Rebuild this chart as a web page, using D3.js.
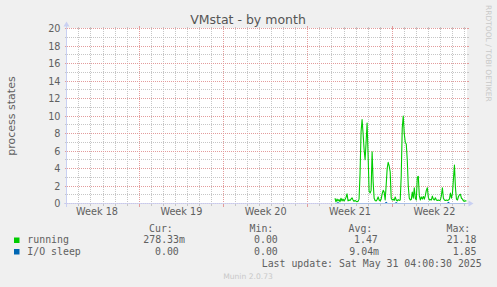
<!DOCTYPE html>
<html>
<head>
<meta charset="utf-8">
<script src="https://cdn.jsdelivr.net/npm/d3@7"></script>
<style>
  html, body { margin: 0; padding: 0; background: #f0f0f0; }
  svg { display: block; }
  text { font-family: "DejaVu Sans", sans-serif; }
  .mono { font-family: "DejaVu Sans Mono", monospace; }
</style>
</head>
<body>
<svg id="chart" width="497" height="287"></svg>
<script>
// ---- data -------------------------------------------------------------
const chartTitle = "VMstat - by month";
const yAxisTitle = "process states";
const periodStart = "2025-04-27T23:12:00Z";
const periodEnd = "2025-05-31T04:00:30Z";
const seriesStart = "2025-05-20T06:00:00Z";   // first 2-hour sample
const stepHours = 2;

// running processes, 2-hour averages
const running = [
  0.6, 0.2, 0.5, 0.3, 0.45, 0.2, 0.6, 0.3, 0.5, 0.3,
  0.45, 0.7, 1.1, 0.3, 0.4, 0.35, 0.5, 0.65, 0.4, 0.25,
  0.35, 0.25, 0.2, 0.25, 0.5, 3.5, 8.2, 9.6, 8.0, 6.2,
  5.0, 7.0, 9.2, 5.5, 1.4, 1.2, 1.5, 5.9, 2.5, 0.6,
  0.35, 0.3, 0.45, 0.75, 0.4, 0.3, 0.5, 1.1, 1.5, 1.3,
  0.4, 2.1, 4.0, 4.7, 4.3, 3.6, 0.6, 0.4, 0.5, 0.35,
  0.75, 0.4, 0.3, 0.45, 0.35, 0.4, 3.2, 8.6, 10.0, 8.0,
  7.0, 6.8, 5.0, 2.0, 0.6, 0.4, 0.45, 1.3, 0.6, 1.8,
  0.6, 0.4, 3.0, 3.1, 0.9, 0.4, 0.75, 0.5, 0.8, 0.5,
  0.9, 1.5, 1.8, 0.7, 0.4, 0.45, 0.4, 0.85, 0.5, 0.4,
  0.65, 0.4, 0.35, 0.4, 0.35, 0.4, 0.9, 1.8, 0.6, 0.4,
  0.35, 0.4, 0.35, 0.4, 0.5, 1.2, 0.6, 1.15, 2.8, 4.4,
  1.8, 0.5, 0.4, 0.8, 1.0, 1.05, 0.6, 0.5, 0.3, 0.27,
  0.3, 0.27833
];

// processes in I/O sleep, 2-hour averages
const ioSleep = [
  0, 0, 0, 0.1, 0, 0, 0, 0, 0, 0,
  0, 0, 0, 0, 0, 0, 0, 0, 0, 0,
  0, 0, 0, 0, 0, 0, 0, 0, 0, 0,
  0, 0, 0, 0, 0, 0, 0, 0, 0, 0,
  0, 0, 0, 0, 0, 0, 0, 0, 0, 0,
  0, 0.12, 0, 0, 0, 0, 0, 0, 0, 0,
  0, 0.1, 0, 0, 0, 0, 0, 0, 0, 0,
  0, 0, 0, 0, 0, 0, 0, 0, 0, 0,
  0, 0, 0, 0, 0, 0, 0, 0, 0, 0,
  0, 0, 0, 0, 0, 0, 0, 0, 0, 0,
  0, 0, 0, 0, 0, 0, 0, 0, 0, 0,
  0, 0, 0, 0.12, 0, 0, 0, 0, 0, 0,
  0, 0, 0, 0, 0, 0, 0, 0, 0, 0,
  0, 0
];

const yTicks = [0, 2, 4, 6, 8, 10, 12, 14, 16, 18, 20];
const weekLabels = ["Week 18", "Week 19", "Week 20", "Week 21", "Week 22"];
const weekLabelTimes = [
  "2025-04-30T12:00:00Z", "2025-05-07T12:00:00Z", "2025-05-14T12:00:00Z",
  "2025-05-21T12:00:00Z", "2025-05-28T12:00:00Z"
];

const seriesNames = ["running", "I/O sleep"];
const seriesColors = ["#00cc00", "#0066b3"];
const statHeaders = ["Cur:", "Min:", "Avg:", "Max:"];
const runningStats = ["278.33m", "0.00", "1.47", "21.18"];
const ioSleepStats = ["0.00", "0.00", "9.04m", "1.85"];
const lastUpdate = "Last update: Sat May 31 04:00:30 2025";
const watermark = "Munin 2.0.73";
const sideNote = "RRDTOOL / TOBI OETIKER";

// ---- layout -----------------------------------------------------------
const X0 = 66.5, X1 = 466.5, Y0 = 203.5, Y1 = 28.5;
const fontColor = "#606060";
const axisColor = "#c9d0f2";
const gridColor = "#c6c6c6";
const mgridColor = "#e39c9c";

const svg = d3.select("#chart");

const x = d3.scaleUtc()
  .domain([new Date(periodStart), new Date(periodEnd)])
  .range([X0, X1]);
const y = d3.scaleLinear().domain([0, 20]).range([Y0, Y1]);
const snap = v => Math.round(v - 0.5) + 0.5;

// background and canvas
svg.append("rect").attr("width", 497).attr("height", 287).attr("fill", "#f0f0f0");
svg.append("rect").attr("x", 66).attr("y", 28).attr("width", 401).attr("height", 176)
  .attr("fill", "#ffffff");

const grid = svg.append("g").attr("shape-rendering", "crispEdges");

// horizontal grid: minor every unit, major every two
const minorY = d3.range(1, 20, 2);
minorY.forEach(v => {
  const yy = snap(y(v));
  grid.append("line").attr("x1", X0).attr("x2", X1).attr("y1", yy).attr("y2", yy)
    .attr("stroke", gridColor).attr("stroke-dasharray", "1,1");
  grid.append("line").attr("x1", X0 - 2).attr("x2", X0).attr("y1", yy).attr("y2", yy)
    .attr("stroke", gridColor);
  grid.append("line").attr("x1", X1).attr("x2", X1 + 2).attr("y1", yy).attr("y2", yy)
    .attr("stroke", gridColor);
});

// vertical grid: minor every day, major every Sunday
const [t0, t1] = x.domain();
d3.utcDay.range(t0, t1).forEach(d => {
  if (d.getUTCDay() === 0) return;
  const xx = snap(x(d));
  grid.append("line").attr("x1", xx).attr("x2", xx).attr("y1", Y1).attr("y2", Y0)
    .attr("stroke", gridColor).attr("stroke-dasharray", "1,1");
  grid.append("line").attr("x1", xx).attr("x2", xx).attr("y1", Y0).attr("y2", Y0 + 2)
    .attr("stroke", gridColor);
  grid.append("line").attr("x1", xx).attr("x2", xx).attr("y1", Y1 - 2).attr("y2", Y1)
    .attr("stroke", gridColor);
});

yTicks.forEach(v => {
  const yy = snap(y(v));
  grid.append("line").attr("x1", X0).attr("x2", X1).attr("y1", yy).attr("y2", yy)
    .attr("stroke", mgridColor).attr("stroke-dasharray", "1,1");
  grid.append("line").attr("x1", X0 - 2).attr("x2", X0).attr("y1", yy).attr("y2", yy)
    .attr("stroke", mgridColor);
  grid.append("line").attr("x1", X1).attr("x2", X1 + 2).attr("y1", yy).attr("y2", yy)
    .attr("stroke", mgridColor);
});

d3.utcSunday.range(t0, t1).forEach(d => {
  const xx = snap(x(d));
  grid.append("line").attr("x1", xx).attr("x2", xx).attr("y1", Y1).attr("y2", Y0)
    .attr("stroke", mgridColor).attr("stroke-dasharray", "1,1");
  grid.append("line").attr("x1", xx).attr("x2", xx).attr("y1", Y0).attr("y2", Y0 + 3)
    .attr("stroke", mgridColor);
  grid.append("line").attr("x1", xx).attr("x2", xx).attr("y1", Y1 - 3).attr("y2", Y1)
    .attr("stroke", mgridColor);
});

// series
const sStart = new Date(seriesStart).getTime();
const timeAt = i => new Date(sStart + i * stepHours * 3600 * 1000);
const line = d3.line().x((d, i) => x(timeAt(i))).y(d => y(d));

[running, ioSleep].forEach((vals, k) => {
  svg.append("path").datum(vals)
    .attr("d", line)
    .attr("fill", "none")
    .attr("stroke", seriesColors[k])
    .attr("stroke-width", 1.1)
    .attr("stroke-linejoin", "round");
});

// axes with arrows
const axes = svg.append("g");
axes.append("line").attr("x1", X0 - 3).attr("x2", X1 + 4).attr("y1", Y0).attr("y2", Y0)
  .attr("stroke", axisColor).attr("stroke-opacity", 0.85).attr("shape-rendering", "crispEdges");
axes.append("line").attr("x1", X0).attr("x2", X0).attr("y1", Y0 + 3).attr("y2", Y1 - 3)
  .attr("stroke", axisColor).attr("shape-rendering", "crispEdges");
axes.append("path")
  .attr("d", `M${X1 + 2},${Y0 - 3}L${X1 + 2},${Y0 + 3}L${X1 + 7},${Y0}Z`)
  .attr("fill", axisColor);
axes.append("path")
  .attr("d", `M${X0 - 3},${Y1 - 2}L${X0 + 3},${Y1 - 2}L${X0},${Y1 - 7}Z`)
  .attr("fill", axisColor);

// tick labels
svg.append("g").selectAll("text").data(yTicks).join("text")
  .attr("x", 60.5).attr("y", d => snap(y(d)) + 3.5)
  .attr("text-anchor", "end")
  .attr("font-size", "9.7px").attr("fill", fontColor)
  .text(d => d);

svg.append("g").selectAll("text").data(weekLabels).join("text")
  .attr("x", (d, i) => x(new Date(weekLabelTimes[i])))
  .attr("y", 215)
  .attr("text-anchor", "middle")
  .attr("font-size", "9.7px").attr("fill", fontColor)
  .text(d => d);

// titles
svg.append("text").attr("x", 248).attr("y", 24).attr("text-anchor", "middle")
  .attr("font-size", "12.5px").attr("fill", "#555555").text(chartTitle);

svg.append("text").attr("transform", `translate(15,${(Y0 + Y1) / 2}) rotate(-90)`)
  .attr("text-anchor", "middle").attr("font-size", "11px").attr("fill", fontColor)
  .text(yAxisTitle);

svg.append("text").attr("transform", "translate(485.5,5) rotate(90)")
  .attr("text-anchor", "start").attr("font-size", "7.5px").attr("fill", "#c8c8c8")
  .text(sideNote);

// legend
const legend = svg.append("g").attr("class", "mono").attr("font-size", "9.9px")
  .attr("fill", fontColor);
const headerX = [149, 249.5, 348.5, 446.5];
const statX = [[143.3, 254, 354, 446.7], [155, 254, 349.3, 452.7]];
const rowY = [243, 254.5];

statHeaders.forEach((h, i) => {
  legend.append("text").attr("class", "mono").attr("x", headerX[i]).attr("y", 231.5).text(h);
});
[runningStats, ioSleepStats].forEach((stats, r) => {
  legend.append("rect").attr("x", 14).attr("y", rowY[r] - 5.5)
    .attr("width", 5.5).attr("height", 5.5).attr("fill", seriesColors[r]);
  legend.append("text").attr("class", "mono").attr("x", 27.3).attr("y", rowY[r])
    .text(seriesNames[r]);
  stats.forEach((s, i) => {
    legend.append("text").attr("class", "mono").attr("x", statX[r][i]).attr("y", rowY[r])
      .text(s);
  });
});
legend.append("text").attr("class", "mono").attr("x", 261.7).attr("y", 267.3).text(lastUpdate);

svg.append("text").attr("x", 248).attr("y", 279).attr("text-anchor", "middle")
  .attr("font-size", "7.6px").attr("fill", "#c8c8c8").text(watermark);
</script>
</body>
</html>
